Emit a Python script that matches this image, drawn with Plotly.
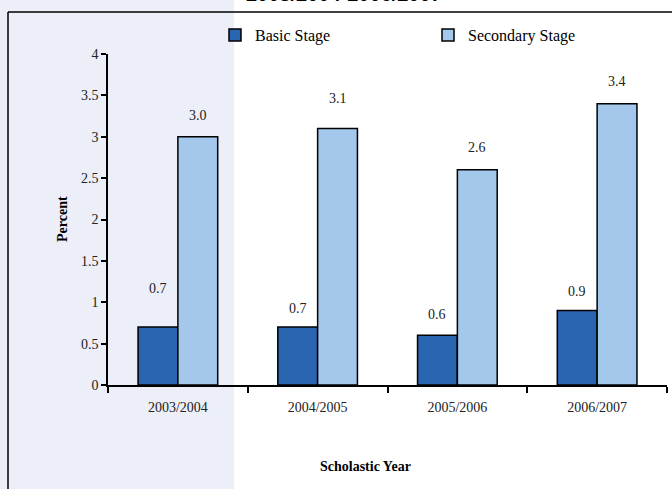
import plotly.graph_objects as go

years = ["2003/2004", "2004/2005", "2005/2006", "2006/2007"]
basic = [0.7, 0.7, 0.6, 0.9]
secondary = [3.0, 3.1, 2.6, 3.4]
basic_labels = ["0.7", "0.7", "0.6", "0.9"]
secondary_labels = ["3.0", "3.1", "2.6", "3.4"]
y_ticks = [0, 0.5, 1, 1.5, 2, 2.5, 3, 3.5, 4]
y_tick_text = ["0", "0.5", "1", "1.5", "2", "2.5", "3", "3.5", "4"]

# label vertical offsets (px above bar top), style only
basic_shift = [39, 19, 21, 19]
secondary_shift = [21, 30, 22, 22]

W, H = 672, 489
L, R, T, B = 108, 5, 54, 104
pw, ph = W - L - R, H - T - B

def px_x(p):
    return (p - L) / pw

def px_y(p):
    return (H - B - p) / ph

serif = "Liberation Serif, Times New Roman, Times, serif"
dark = "#2965b0"
light = "#a3c8ec"

fig = go.Figure()
fig.add_trace(go.Bar(x=years, y=basic, name="Basic Stage",
                     marker=dict(color=dark, line=dict(color="black", width=1.5))))
fig.add_trace(go.Bar(x=years, y=secondary, name="Secondary Stage",
                     marker=dict(color=light, line=dict(color="black", width=1.5))))

ann = []
for i, yr in enumerate(years):
    ann.append(dict(x=yr, y=basic[i], xref="x", yref="y", text=basic_labels[i],
                    showarrow=False, xshift=-20, yshift=basic_shift[i],
                    font=dict(family=serif, size=14, color="#222")))
    ann.append(dict(x=yr, y=secondary[i], xref="x", yref="y", text=secondary_labels[i],
                    showarrow=False, xshift=20, yshift=secondary_shift[i],
                    font=dict(family=serif, size=14, color="#222")))

ann.append(dict(x=px_x(344), y=px_y(-6), xref="paper", yref="paper",
                text="<b>2003/2004-2006/2007</b>", showarrow=False,
                xanchor="center", yanchor="middle",
                font=dict(family="Liberation Sans, Arial, sans-serif", size=20, color="black")))
ann.append(dict(x=px_x(62), y=px_y(219), xref="paper", yref="paper",
                text="<b>Percent</b>", textangle=-90, showarrow=False,
                xanchor="center", yanchor="middle",
                font=dict(family=serif, size=14, color="black")))
ann.append(dict(x=px_x(365), y=px_y(466), xref="paper", yref="paper",
                text="<b>Scholastic Year</b>", showarrow=False,
                xanchor="center", yanchor="middle",
                font=dict(family=serif, size=14, color="black")))

shapes = [
    dict(type="rect", xref="paper", yref="paper", x0=px_x(-10), x1=px_x(234),
         y0=px_y(H + 10), y1=px_y(-10), fillcolor="#eceef8", line=dict(width=0),
         layer="below"),
    dict(type="line", xref="paper", yref="paper", x0=px_x(8), x1=px_x(8),
         y0=px_y(12), y1=px_y(H + 10), line=dict(color="black", width=1.5)),
    dict(type="line", xref="paper", yref="paper", x0=px_x(8), x1=px_x(W + 10),
         y0=px_y(12), y1=px_y(12), line=dict(color="black", width=1.5)),
]

fig.update_layout(
    width=W, height=H,
    margin=dict(l=L, r=R, t=T, b=B, pad=0),
    paper_bgcolor="white", plot_bgcolor="rgba(0,0,0,0)",
    barmode="group", bargap=0.43, bargroupgap=0,
    showlegend=True,
    legend=dict(orientation="h", x=px_x(215), y=px_y(35), xanchor="left", yanchor="middle",
                bgcolor="rgba(0,0,0,0)", entrywidth=168, entrywidthmode="pixels",
                itemwidth=30, traceorder="normal",
                font=dict(family=serif, size=16, color="black")),
    annotations=ann, shapes=shapes,
    xaxis=dict(showgrid=False, showline=True, linecolor="black", linewidth=1.5,
               ticks="outside", tickson="boundaries", ticklen=6, tickwidth=1.5,
               tickcolor="black", tickfont=dict(family=serif, size=14, color="#222"),
               ticklabelstandoff=8, zeroline=False),
    yaxis=dict(range=[0, 4], tickvals=y_ticks, ticktext=y_tick_text, showgrid=False,
               showline=True, linecolor="black", linewidth=1.5, ticks="outside",
               ticklen=5, tickwidth=1.5, tickcolor="black",
               tickfont=dict(family=serif, size=14, color="#222"), zeroline=False),
)

fig.write_html("out.html", config={"displayModeBar": False},
               post_script="document.body.style.margin='0';")
